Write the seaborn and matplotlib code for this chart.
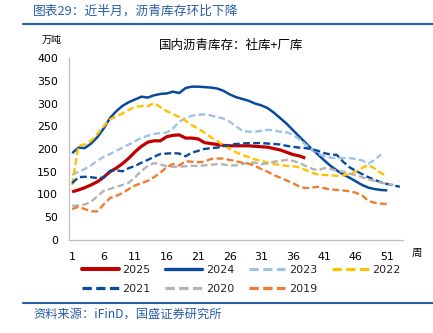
import matplotlib
matplotlib.use("Agg")
import matplotlib.pyplot as plt
from matplotlib.lines import Line2D
import seaborn as sns
import pandas as pd

# Weekly asphalt inventory (social + refinery), 10k tonnes
years = ["2025", "2024", "2023", "2022", "2021", "2020", "2019"]
inv_2025 = [106, 110, 115, 121, 128, 138, 150, 158, 168, 180, 194, 206, 215, 218, 218, 227, 230, 231,
            224, 224, 222, 214, 212, 210, 208, 207, 207, 207, 207, 206, 205, 204, 201, 198, 193, 188, 185, 180]
inv_2024 = [191, 203, 202, 212, 226, 245, 268, 283, 295, 303, 309, 315, 313, 318, 321, 322, 326, 323,
            334, 337, 337, 336, 335, 333, 328, 320, 314, 310, 306, 300, 296, 290, 280, 268, 256, 242,
            228, 214, 200, 188, 175, 163, 153, 144, 137, 129, 121, 115, 112, 110, 109]
inv_2023 = [143, 150, 156, 164, 174, 183, 189, 196, 203, 210, 217, 225, 229, 233, 235, 236, 245, 260,
            268, 273, 275, 276, 274, 270, 267, 260, 250, 240, 238, 238, 240, 242, 241, 238, 237, 231,
            222, 210, 200, 190, 184, 181, 180, 180, 180, 178, 175, 168, 176, 188]
inv_2022 = [121, 207, 210, 218, 233, 250, 265, 272, 278, 286, 293, 294, 294, 301, 292, 283, 277, 270,
            262, 252, 245, 236, 226, 218, 208, 200, 193, 187, 182, 177, 174, 170, 167, 165, 163, 162,
            160, 154, 148, 144, 143, 142, 141, 142, 145, 150, 158, 165, 157, 147, 140]
inv_2021 = [125, 138, 139, 138, 136, 137, 152, 153, 151, 158, 163, 170, 176, 183, 189, 190, 191, 190,
            184, 192, 196, 200, 202, 203, 206, 209, 211, 212, 213, 213, 213, 212, 211, 210, 207, 205,
            203, 202, 200, 196, 191, 188, 187, 172, 160, 152, 145, 138, 132, 127, 123, 120, 117]
inv_2020 = [75, 76, 78, 84, 96, 108, 112, 117, 121, 126, 138, 152, 163, 169, 166, 162, 161, 161,
            162, 163, 163, 164, 165, 167, 166, 164, 164, 167, 170, 170, 167, 168, 172, 174, 176, 174,
            170, 163, 157, 153, 158, 156, 152, 150, 146, 142, 138, 133, 130, 126, 123, 121]
inv_2019 = [68, 73, 68, 63, 63, 78, 92, 97, 103, 112, 120, 125, 130, 138, 148, 160, 167, 164,
            173, 172, 171, 172, 178, 179, 179, 176, 173, 170, 168, 163, 156, 150, 143, 137, 131, 125,
            118, 114, 115, 117, 114, 111, 110, 109, 107, 104, 98, 86, 82, 80, 79]
x_ticks = [1, 6, 11, 16, 21, 26, 31, 36, 41, 46, 51]
y_ticks = [0, 50, 100, 150, 200, 250, 300, 350, 400]

series = dict(zip(years, [inv_2025, inv_2024, inv_2023, inv_2022, inv_2021, inv_2020, inv_2019]))
frames = [pd.DataFrame({"week": range(1, len(v) + 1), "value": v, "year": y}) for y, v in series.items()]
df = pd.concat(frames, ignore_index=True)

styles = {
    "2025": dict(color="#C00000", lw=2.3, dash=None),
    "2024": dict(color="#0A4A9C", lw=1.8, dash=None),
    "2023": dict(color="#9DC3E6", lw=1.7, dash=(2.9, 1.4)),
    "2022": dict(color="#FFC000", lw=1.7, dash=(2.9, 1.4)),
    "2021": dict(color="#0A4A9C", lw=1.7, dash=(2.9, 1.4)),
    "2020": dict(color="#B4B4B4", lw=1.7, dash=(2.9, 1.4)),
    "2019": dict(color="#ED7D31", lw=1.7, dash=(2.9, 1.4)),
}

sns.set_theme(style="white")
plt.rcParams["font.family"] = ["DejaVu Sans", "Noto Sans CJK SC"]
cjk = ["Noto Sans CJK SC", "DejaVu Sans"]

fig = plt.figure(figsize=(4.33, 3.33), dpi=100)
W, H = 433, 333
ax = fig.add_axes([69 / W, 1 - 240 / H, (403 - 69) / W, (240 - 58) / H])

handles = {}
for y in years:
    st = styles[y]
    sub = df[df["year"] == y]
    sns.lineplot(data=sub, x="week", y="value", ax=ax, color=st["color"], linewidth=st["lw"],
                 legend=False, estimator=None, sort=False)
    line = ax.get_lines()[-1]
    if st["dash"] is not None:
        line.set_dashes(st["dash"])
    line.set_solid_capstyle("butt")
    line.set_dash_capstyle("butt")
    h = Line2D([], [], color=st["color"], linewidth=st["lw"] + 0.6)
    if st["dash"] is not None:
        h.set_dashes(st["dash"])
    handles[y] = h

ax.set_xlim(0.5, 53.5)
ax.set_ylim(0, 400)
ax.set_xticks(x_ticks)
ax.set_yticks(y_ticks)
ax.set_xlabel("")
ax.set_ylabel("")
ax.tick_params(axis="both", labelsize=7.9, colors="#000000", pad=5)
ax.tick_params(axis="x", length=0, pad=9)
ax.tick_params(axis="y", length=3, width=0.8, color="#BFBFBF", direction="out")
for s in ["top", "right"]:
    ax.spines[s].set_visible(False)
for s in ["left", "bottom"]:
    ax.spines[s].set_color("#BFBFBF")
    ax.spines[s].set_linewidth(0.9)
ax.grid(False)

blue = "#2A5DA8"
fig.text(33 / W, 1 - 11 / H, "图表29：近半月，沥青库存环比下降", family=cjk, fontsize=9.2,
         color=blue, ha="left", va="center", style="italic")
fig.add_artist(Line2D([23 / W, 1], [1 - 24 / H, 1 - 24 / H], color=blue, lw=1.5))
fig.add_artist(Line2D([23 / W, 1], [1 - 303 / H, 1 - 303 / H], color=blue, lw=1.5))
fig.text(33 / W, 1 - 314 / H, "资料来源：iFinD，国盛证券研究所", family=cjk, fontsize=8.8,
         color=blue, ha="left", va="center", style="italic")
fig.text(42 / W, 1 - 40 / H, "万吨", family=cjk, fontsize=7.2, color="#000000", ha="left", va="center")
fig.text(231 / W, 1 - 45 / H, "国内沥青库存：社库+厂库", family=cjk, fontsize=9, color="#000000",
         ha="center", va="center")
fig.text(417 / W, 1 - 253 / H, "周", family=cjk, fontsize=7.5, color="#000000", ha="center", va="center")

order = ["2025", "2021", "2024", "2020", "2023", "2019", "2022"]
fig.legend([handles[k] for k in order], order, ncol=4, loc="center left",
           bbox_to_anchor=(82 / W, 1 - 279.5 / H), frameon=False, fontsize=8,
           handlelength=3.3, handletextpad=0.35, columnspacing=1.3, labelspacing=0.85,
           borderaxespad=0, borderpad=0)

fig.savefig("out.png", dpi=100)
